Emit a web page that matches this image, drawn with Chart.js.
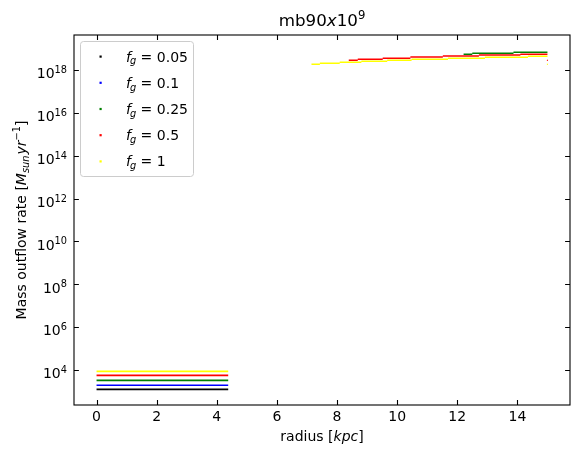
<!DOCTYPE html>
<html>
<head>
<meta charset="utf-8">
<script src="https://cdn.jsdelivr.net/npm/chart.js@4/dist/chart.umd.min.js"></script>
<style>
  html, body { margin: 0; padding: 0; background: #fff; }
  #wrap { width: 579px; height: 456px; }
</style>
</head>
<body>
<div id="wrap"><canvas id="chart" width="579" height="456"></canvas></div>
<script>
// Series labels (f_g) and colours
const fgLabels = ['0.05', '0.1', '0.25', '0.5', '1'];
const seriesColors = ['#000000', '#0000ff', '#008000', '#ff0000', '#ffff00'];

// Inner region: flat outflow rate from r = 0 to ~4.4 kpc
const innerRadius = [0, 4.38];
const innerRate = [1260, 1950, 3300, 5650, 8700];

// Outer region: step edges (radius in kpc) and the rate (Msun/yr) on each step
const outerRadius = [
    [],
    [],
    [12.21, 12.50, 13.87, 15.0],
    [8.39, 8.69, 9.52, 10.44, 11.52, 12.72, 14.10, 15.0],
    [7.15, 7.43, 8.09, 8.81, 9.67, 10.48, 11.69, 12.92, 14.35, 15.0]
];
const outerRate = [
    [],
    [],
    [5.37e18, 5.98e18, 6.65e18],
    [2.82e18, 3.15e18, 3.50e18, 4.03e18, 4.48e18, 4.99e18, 5.37e18],
    [1.84e18, 2.05e18, 2.28e18, 2.54e18, 2.82e18, 3.15e18, 3.50e18, 3.90e18, 4.34e18]
];

// Lone points at the outer edge
const edgeRadius = [15.0, 15.0];
const edgeRate = [2.82e18, 1.84e18];
const edgeSeries = [3, 4];

// Axis ticks
const xTicks = [0, 2, 4, 6, 8, 10, 12, 14];
const yTickExps = [4, 6, 8, 10, 12, 14, 16, 18];

const FONT = '"DejaVu Sans", sans-serif';

// Each step becomes its own horizontal piece, split by null gaps
function buildSeries(i) {
    const pts = innerRadius.map(r => ({ x: r, y: innerRate[i] }));
    const edges = outerRadius[i];
    outerRate[i].forEach((v, k) => {
        pts.push({ x: edges[k], y: null });
        pts.push({ x: edges[k], y: v });
        pts.push({ x: edges[k + 1], y: v });
    });
    return pts;
}

const datasets = fgLabels.map((label, i) => ({
    label: label,
    data: buildSeries(i),
    borderColor: seriesColors[i],
    backgroundColor: seriesColors[i],
    borderWidth: 1.6,
    pointRadius: 0,
    spanGaps: false,
    order: fgLabels.length - i
}));

edgeSeries.forEach((s, k) => {
    datasets.push({
        label: '',
        data: [{ x: edgeRadius[k], y: edgeRate[k] }],
        showLine: false,
        pointStyle: 'rect',
        pointRadius: 0.8,
        borderWidth: 0,
        backgroundColor: seriesColors[s],
        order: fgLabels.length - s
    });
});

// Draw a run of text pieces (for simple math-like labels)
function runsWidth(ctx, runs) {
    let w = 0;
    runs.forEach(r => { ctx.font = r.font; w += ctx.measureText(r.t).width + (r.gap || 0); });
    return w;
}
function drawRuns(ctx, runs, x, y, align) {
    const w = runsWidth(ctx, runs);
    let cx = align === 'center' ? x - w / 2 : align === 'right' ? x - w : x;
    runs.forEach(r => {
        ctx.font = r.font;
        ctx.fillText(r.t, cx, y + (r.dy || 0));
        cx += ctx.measureText(r.t).width + (r.gap || 0);
    });
}

const decorPlugin = {
    id: 'decor',
    afterDraw(chart) {
        const ctx = chart.ctx;
        const area = chart.chartArea;
        const xs = chart.scales.x;
        const ys = chart.scales.y;
        ctx.save();
        ctx.fillStyle = '#000';
        ctx.strokeStyle = '#000';
        ctx.textBaseline = 'alphabetic';

        // spines
        ctx.lineWidth = 1.1;
        ctx.strokeRect(area.left, area.top, area.right - area.left, area.bottom - area.top);

        // ticks, inward on all sides
        const tl = 4.9;
        ctx.beginPath();
        xTicks.forEach(v => {
            const px = Math.round(xs.getPixelForValue(v)) + 0.5;
            ctx.moveTo(px, area.bottom); ctx.lineTo(px, area.bottom - tl);
            ctx.moveTo(px, area.top); ctx.lineTo(px, area.top + tl);
        });
        yTickExps.forEach(e => {
            const py = Math.round(ys.getPixelForValue(Math.pow(10, e))) + 0.5;
            ctx.moveTo(area.left, py); ctx.lineTo(area.left + tl, py);
            ctx.moveTo(area.right, py); ctx.lineTo(area.right - tl, py);
        });
        ctx.stroke();

        // x tick labels
        ctx.font = '14px ' + FONT;
        ctx.textAlign = 'center';
        xTicks.forEach(v => {
            ctx.fillText(String(v), xs.getPixelForValue(v), area.bottom + 15.5);
        });

        // y tick labels 10^n
        ctx.textAlign = 'left';
        yTickExps.forEach(e => {
            const py = ys.getPixelForValue(Math.pow(10, e));
            drawRuns(ctx, [
                { t: '10', font: '14px ' + FONT, dy: 8.3 },
                { t: String(e), font: '9.8px ' + FONT, dy: 3 }
            ], area.left - 7, py, 'right');
        });

        // title
        const cxMid = (area.left + area.right) / 2;
        drawRuns(ctx, [
            { t: 'mb90', font: '16.7px ' + FONT },
            { t: 'x', font: 'italic 16.7px ' + FONT },
            { t: '10', font: '16.7px ' + FONT },
            { t: '9', font: '11.7px ' + FONT, dy: -7 }
        ], cxMid, 26, 'center');

        // x label
        drawRuns(ctx, [
            { t: 'radius [', font: '14px ' + FONT },
            { t: 'kpc', font: 'italic 14px ' + FONT },
            { t: ']', font: '14px ' + FONT }
        ], cxMid, 441, 'center');

        // y label (rotated)
        ctx.save();
        ctx.translate(26, (area.top + area.bottom) / 2);
        ctx.rotate(-Math.PI / 2);
        drawRuns(ctx, [
            { t: 'Mass outflow rate [', font: '14px ' + FONT },
            { t: 'M', font: 'italic 14px ' + FONT },
            { t: 'sun', font: 'italic 9.8px ' + FONT, dy: 2.9, gap: 1 },
            { t: 'yr', font: 'italic 14px ' + FONT },
            { t: '\u22121', font: '9.8px ' + FONT, dy: -6 },
            { t: ']', font: '14px ' + FONT }
        ], 0, 0, 'center');
        ctx.restore();

        // legend
        const lx = 80.5, ly = 41.5, lw = 113, lh = 135, rad = 3;
        ctx.beginPath();
        ctx.moveTo(lx + rad, ly);
        ctx.arcTo(lx + lw, ly, lx + lw, ly + lh, rad);
        ctx.arcTo(lx + lw, ly + lh, lx, ly + lh, rad);
        ctx.arcTo(lx, ly + lh, lx, ly, rad);
        ctx.arcTo(lx, ly, lx + lw, ly, rad);
        ctx.closePath();
        ctx.fillStyle = 'rgba(255,255,255,0.8)';
        ctx.fill();
        ctx.strokeStyle = '#cccccc';
        ctx.lineWidth = 1;
        ctx.stroke();

        fgLabels.forEach((label, i) => {
            const cy = 56.5 + i * 26.2;
            ctx.fillStyle = seriesColors[i];
            ctx.fillRect(99.5, cy - 1, 2.2, 2.2);
            ctx.fillStyle = '#000';
            drawRuns(ctx, [
                { t: 'f', font: 'italic 14px ' + FONT, gap: -1 },
                { t: 'g', font: 'italic 9.8px ' + FONT, dy: 2.9 },
                { t: ' = ' + label, font: '14px ' + FONT }
            ], 126, cy + 5, 'left');
        });

        ctx.restore();
    }
};

new Chart(document.getElementById('chart').getContext('2d'), {
    type: 'line',
    data: { datasets: datasets },
    options: {
        responsive: false,
        animation: false,
        events: [],
        layout: { padding: { top: 35, right: 9, left: 0, bottom: 0 } },
        plugins: {
            legend: { display: false },
            tooltip: { enabled: false },
            title: { display: false }
        },
        scales: {
            x: {
                type: 'linear',
                min: -0.75,
                max: 15.75,
                ticks: { display: false },
                grid: { display: false },
                border: { display: false },
                afterFit(scale) { scale.height = 51; }
            },
            y: {
                type: 'logarithmic',
                min: Math.pow(10, 2.37),
                max: Math.pow(10, 19.63),
                ticks: { display: false },
                grid: { display: false },
                border: { display: false },
                afterFit(scale) { scale.width = 74; }
            }
        }
    },
    plugins: [decorPlugin]
});
</script>
</body>
</html>
